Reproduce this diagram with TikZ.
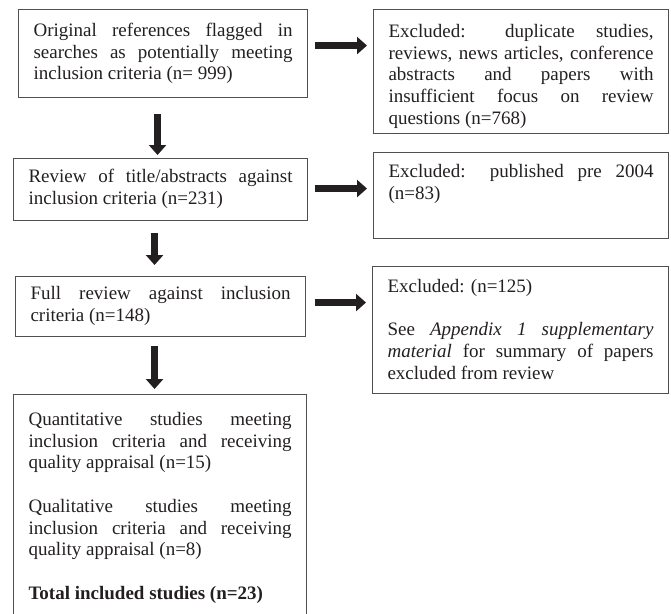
\documentclass[tikz,border=0pt]{standalone}
\usepackage{fontspec}
\setmainfont{Liberation Serif}
\usetikzlibrary{arrows.meta}
\definecolor{ink}{HTML}{231F20}
\definecolor{frame}{HTML}{505050}
\newcommand{\jline}[1]{\makebox[\linewidth][s]{\strut #1}\par}
\newcommand{\pline}[1]{\strut #1\par}
\newcommand{\boxtext}[4]{\parbox[c][#1][t]{#2}{\fontsize{19pt}{21.7pt}\selectfont\setlength{\parindent}{0pt}\setlength{\parskip}{0pt}\vspace*{#3}#4}}
\tikzset{
  box/.style={draw=frame, line width=1.1pt, rectangle, inner xsep=15pt, inner ysep=0pt, anchor=north west, text=ink},
  arr/.style={draw=ink, line width=7pt, -{Triangle[width=17pt,length=10pt]}}
}
\begin{document}
\begin{tikzpicture}[x=1pt,y=-1pt]
\useasboundingbox (0,0) rectangle (671,613);
\node[box] (b1) at (18,9) {\boxtext{88pt}{259pt}{11.8pt}{%
\jline{Original references flagged in}%
\jline{searches as potentially meeting}%
\pline{inclusion criteria (n= 999)}}};
\node[box] (r1) at (373,9) {\boxtext{124pt}{265pt}{12.8pt}{%
\jline{Excluded: duplicate studies,}%
\jline{reviews, news articles, conference}%
\jline{abstracts and papers with}%
\jline{insufficient focus on review}%
\pline{questions (n=768)}}};
\node[box] (b2) at (13,158) {\boxtext{62pt}{264pt}{8.8pt}{%
\jline{Review of title/abstracts against}%
\pline{inclusion criteria (n=231)}}};
\node[box] (r2) at (373,152) {\boxtext{86pt}{265pt}{9.8pt}{%
\jline{Excluded: published pre 2004}%
\pline{(n=83)}}};
\node[box] (b3) at (15,276) {\boxtext{60pt}{260pt}{7.8pt}{%
\jline{Full review against inclusion}%
\pline{criteria (n=148)}}};
\node[box] (r3) at (372,266) {\boxtext{127pt}{266pt}{10.8pt}{%
\pline{Excluded: (n=125)}%
\pline{}%
\jline{See \textit{Appendix 1 supplementary}}%
\jline{\textit{material} for summary of papers}%
\pline{excluded from review}}};
\node[box] (b4) at (13,394) {\boxtext{232pt}{263pt}{15.8pt}{%
\jline{Quantitative studies meeting}%
\jline{inclusion criteria and receiving}%
\pline{quality appraisal (n=15)}%
\pline{}%
\jline{Qualitative studies meeting}%
\jline{inclusion criteria and receiving}%
\pline{quality appraisal (n=8)}%
\pline{}%
\pline{\textbf{Total included studies (n=23)}}}};
% horizontal arrows
\draw[arr, shorten >=6pt] ([xshift=7pt,yshift=8pt]b1.east) coordinate (h1) -- (h1 -| r1.west);
\draw[arr, shorten >=6pt] ([xshift=7pt,yshift=1pt]b2.east) coordinate (h2) -- (h2 -| r2.west);
\draw[arr, shorten >=6pt] ([xshift=9pt,yshift=4pt]b3.east) coordinate (h3) -- (h3 -| r3.west);
% vertical arrows
\draw[arr, shorten <=16pt, shorten >=3pt] ([xshift=-5.5pt]b1.south) coordinate (v1) -- (v1 |- b2.north);
\draw[arr, shorten <=12pt, shorten >=11pt] ([xshift=-6pt]b2.south) coordinate (v2) -- (v2 |- b3.north);
\draw[arr, shorten <=9pt, shorten >=5pt] ([xshift=-6pt]b3.south) coordinate (v3) -- (v3 |- b4.north);
\end{tikzpicture}
\end{document}
